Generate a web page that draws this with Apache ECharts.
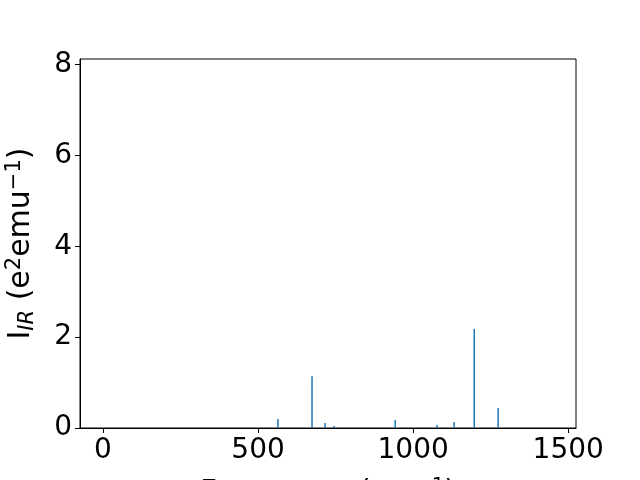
<!DOCTYPE html>
<html>
<head>
<meta charset="utf-8">
<script src="https://cdn.jsdelivr.net/npm/echarts@6/dist/echarts.min.js"></script>
<style>html,body{margin:0;padding:0;background:#fff}#c{width:640px;height:480px}</style>
</head>
<body>
<div id="c"></div>
<script>
var frequencies = [564, 674, 716, 745, 942, 1077, 1132, 1197, 1274];
var intensities = [0.20, 1.14, 0.11, 0.044, 0.176, 0.066, 0.13, 2.18, 0.44];
var xTicks = [0, 500, 1000, 1500];
var yTicks = [0, 2, 4, 6, 8];

var font = 'DejaVu Sans';
var chart = echarts.init(document.getElementById('c'), null, {renderer: 'canvas'});
chart.setOption({
  animation: false,
  backgroundColor: '#fff',
  grid: {left: 80, right: 64, top: 59, bottom: 52, containLabel: false, outerBoundsMode: 'none',
    show: true, borderColor: '#000', borderWidth: 1, backgroundColor: 'transparent'},
  xAxis: {
    type: 'value', min: -74, max: 1525,
    splitLine: {show: false},
    axisLine: {show: true, onZero: false, lineStyle: {color: '#000', width: 1}},
    axisTick: {show: true, inside: false, length: 5, lineStyle: {color: '#000'}, customValues: xTicks},
    axisLabel: {customValues: xTicks, color: '#000', fontFamily: font, fontSize: 28, margin: 9,
      formatter: function (v) { return String(v); }},
    name: 'Frequency (cm{sup|−1})',
    nameLocation: 'middle', nameGap: 48,
    nameTextStyle: {color: '#000', fontFamily: font, fontSize: 29, verticalAlign: 'top',
      rich: {sup: {fontSize: 20, fontFamily: font, color: '#000', verticalAlign: 'top', padding: [0,0,12,0]}}}
  },
  yAxis: {
    type: 'value', min: 0, max: 8.12,
    splitLine: {show: false},
    axisLine: {show: true, onZero: false, lineStyle: {color: '#000', width: 1}},
    axisTick: {show: true, inside: false, length: 5, lineStyle: {color: '#000'}, customValues: yTicks},
    axisLabel: {customValues: yTicks, color: '#000', fontFamily: font, fontSize: 28, margin: 8,
      formatter: function (v) { return String(v); }},
    name: 'I{sub|IR} (e{sup|2}emu{sup|−1})',
    nameLocation: 'middle', nameRotate: 90, nameGap: 42,
    nameTextStyle: {color: '#000', fontFamily: font, fontSize: 30,
      rich: {
        sub: {fontSize: 21, fontFamily: font, fontStyle: 'italic', color: '#000', padding: [13,0,0,0]},
        sup: {fontSize: 21, fontFamily: font, color: '#000', padding: [0,0,13,0]}
      }}
  },
  series: [{
    type: 'bar',
    barWidth: 1.5,
    itemStyle: {color: '#1f77b4'},
    data: frequencies.map(function (f, i) { return [f, intensities[i]]; })
  }]
});
</script>
</body>
</html>
